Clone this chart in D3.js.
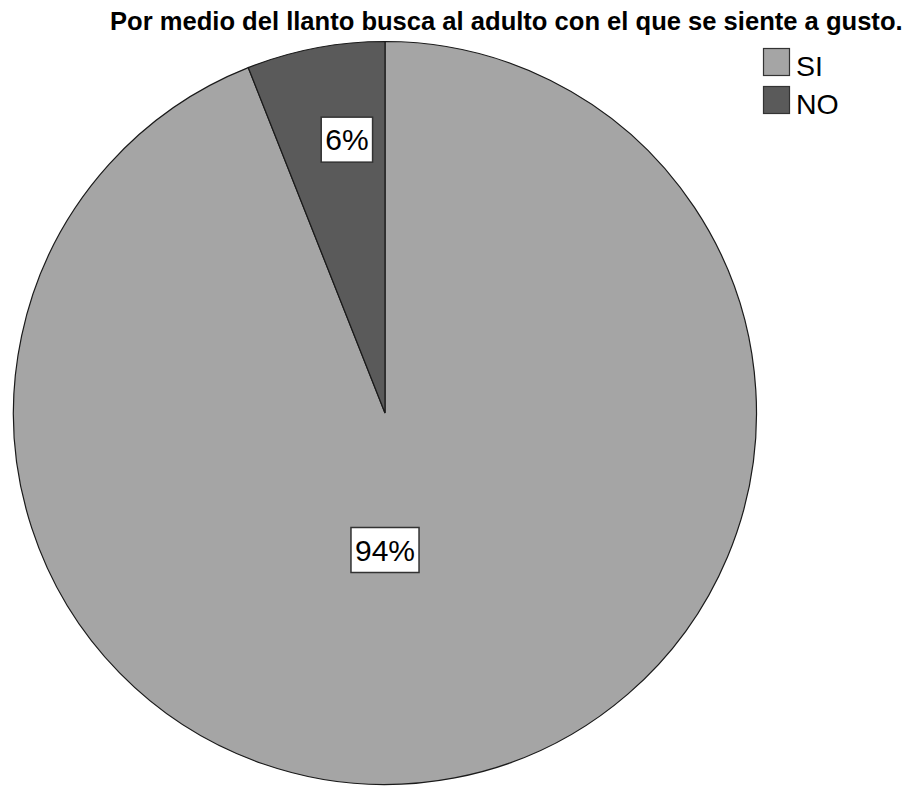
<!DOCTYPE html>
<html><head><meta charset="utf-8">
<script src="https://cdn.jsdelivr.net/npm/d3@7"></script>
<style>body{margin:0;background:#fff}svg{display:block}</style>
</head><body>
<script>
const title = "Por medio del llanto busca al adulto con el que se siente a gusto.";
const categories = ["SI", "NO"];
const values = [94, 6];
const labels = ["94%", "6%"];
const colors = ["#a5a5a5", "#5a5a5a"];

const W = 909, H = 787;
const cx = 385, cy = 413, R = 371.5;
const svg = d3.select("body").append("svg").attr("width", W).attr("height", H);

const t = svg.append("text").attr("x", 110).attr("y", 30)
  .attr("font-family", "Liberation Sans, Arial, sans-serif")
  .attr("font-weight", "bold").attr("font-size", 23).attr("fill", "#000").text(title);
const tw = t.node().getComputedTextLength();
t.attr("font-size", 23 * 793 / tw);

const pie = d3.pie().sort(null).value(d => d)
  .startAngle(0).endAngle(2 * Math.PI);
const arcs = pie(values);
const arc = d3.arc().innerRadius(0).outerRadius(R);
const g = svg.append("g").attr("transform", `translate(${cx},${cy})`);
g.selectAll("path").data(arcs).enter().append("path")
  .attr("d", arc).attr("fill", (d, i) => colors[i])
  .attr("stroke", "#1a1a1a").attr("stroke-width", 1.2);

// label positions: SI just below center, NO near outer edge
const labelR = [137, 276];
const labelAngle = d => (d.index === 0 ? Math.PI : (d.startAngle + d.endAngle) / 2 + 0.05);
arcs.forEach((d, i) => {
  const a = labelAngle(d);
  const x = Math.sin(a) * labelR[i], y = -Math.cos(a) * labelR[i];
  const lg = g.append("g").attr("transform", `translate(${x},${y})`);
  const tx = lg.append("text").attr("text-anchor", "middle").attr("dy", "0.36em")
    .attr("font-family", "Liberation Sans, Arial, sans-serif").attr("font-size", 30)
    .attr("fill", "#000").text(labels[i]);
  const bb = tx.node().getBBox();
  lg.insert("rect", "text").attr("x", bb.x - 4).attr("y", -22.5)
    .attr("width", bb.width + 8).attr("height", 45)
    .attr("fill", "#fff").attr("stroke", "#333").attr("stroke-width", 1.5);
});

// legend
const leg = svg.append("g").attr("transform", "translate(763,48)");
categories.forEach((c, i) => {
  const row = leg.append("g").attr("transform", `translate(0,${i * 38})`);
  row.append("rect").attr("x", 0.5).attr("y", 0.5).attr("width", 26).attr("height", 27)
    .attr("fill", colors[i]).attr("stroke", "#333").attr("stroke-width", 1.2);
  row.append("text").attr("x", 33).attr("y", 28)
    .attr("font-family", "Liberation Sans, Arial, sans-serif").attr("font-size", 28.5)
    .attr("fill", "#000").text(c);
});
</script>
</body></html>
